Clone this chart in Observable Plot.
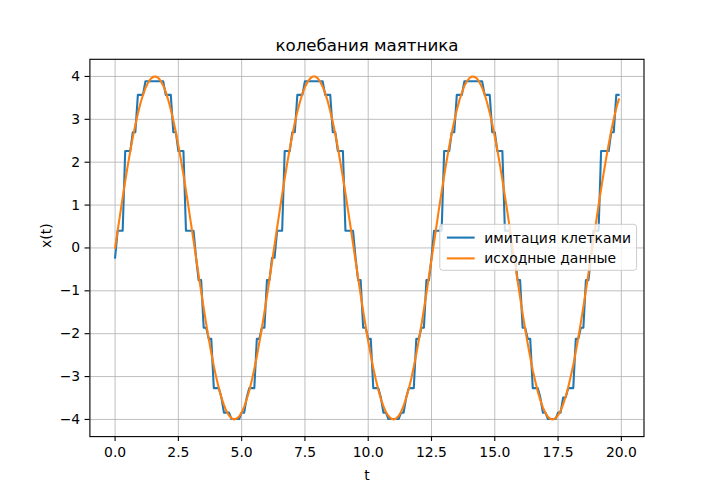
<!DOCTYPE html>
<html><head><meta charset="utf-8">
<script src="https://cdn.jsdelivr.net/npm/d3@7"></script>
<script src="https://cdn.jsdelivr.net/npm/@observablehq/plot@0.6"></script>
<style>html,body{margin:0;padding:0;background:#fff;}#chart{width:715px;height:490px;}</style>
</head><body><div id="chart"></div>
<script>
const titleText = "колебания маятника";
const xLabel = "t";
const yLabel = "x(t)";
const seriesNames = ["имитация клетками", "исходные данные"];
const seriesColors = ["#1f77b4", "#ff7f0e"];
const xTicks = [0, 2.5, 5, 7.5, 10, 12.5, 15, 17.5, 20];
const yTicks = [-4, -3, -2, -1, 0, 1, 2, 3, 4];
const tStep = 0.1;

// "исходные данные": values at t = 0, 0.1, ..., 19.9
const originalValues = [
0.00, 0.40, 0.79, 1.18, 1.56, 1.92, 2.26, 2.58, 2.87, 3.13,
3.37, 3.56, 3.73, 3.85, 3.94, 3.99, 4.00, 3.97, 3.90, 3.79,
3.64, 3.45, 3.23, 2.98, 2.70, 2.39, 2.06, 1.71, 1.34, 0.96,
0.56, 0.17, -0.23, -0.63, -1.02, -1.40, -1.77, -2.12, -2.45, -2.75,
-3.03, -3.27, -3.49, -3.66, -3.81, -3.91, -3.97, -4.00, -3.98, -3.93,
-3.84, -3.70, -3.53, -3.33, -3.09, -2.82, -2.53, -2.20, -1.86, -1.50,
-1.12, -0.73, -0.33,
0.07, 0.47, 0.86, 1.25, 1.62, 1.98, 2.31, 2.63, 2.92, 3.18,
3.40, 3.60, 3.75, 3.87, 3.95, 4.00, 4.00, 3.96, 3.88, 3.76,
3.61, 3.42, 3.19, 2.94, 2.65, 2.34, 2.00, 1.65, 1.28, 0.89,
0.50, 0.10, -0.30, -0.70, -1.09, -1.47, -1.83, -2.18, -2.50, -2.80,
-3.07, -3.31, -3.52, -3.69, -3.83, -3.92, -3.98, -4.00, -3.98, -3.92,
-3.82, -3.68, -3.50, -3.29, -3.05, -2.77, -2.47, -2.15, -1.80, -1.43,
-1.05, -0.66, -0.27,
0.13, 0.53, 0.93, 1.31, 1.68, 2.04, 2.37, 2.68, 2.96, 3.22,
3.44, 3.62, 3.78, 3.89, 3.96, 4.00, 3.99, 3.95, 3.86, 3.74,
3.58, 3.38, 3.15, 2.89, 2.60, 2.29, 1.95, 1.59, 1.21, 0.83,
0.43, 0.03, -0.37, -0.76, -1.15, -1.53, -1.89, -2.23, -2.55, -2.85,
-3.11, -3.35, -3.55, -3.72, -3.85, -3.94, -3.99, -4.00, -3.97, -3.90,
-3.80, -3.65, -3.47, -3.25, -3.00, -2.73, -2.42, -2.09, -1.74, -1.37,
-0.99, -0.60, -0.20,
0.20, 0.60, 0.99, 1.37, 1.74, 2.09, 2.42, 2.73, 3.01, 3.26, 3.47
];

// "имитация клетками": cell levels and how many consecutive samples hold each
const cellLevels = [
-0.23, 0.40, 2.26, 2.70, 3.57, 3.89, 3.57, 2.70, 2.26, 0.40,
-0.23, -0.75, -1.86, -2.12, -3.27, -3.49, -3.84, -3.99, -3.84, -3.49, -3.27, -2.12, -1.86, -0.75, -0.23,
0.40, 2.26, 2.70, 3.57, 3.89, 3.57, 2.70, 2.26, 0.40,
-0.23, -0.75, -1.86, -2.12, -3.27, -3.49, -3.84, -3.99, -3.84, -3.49, -3.27, -2.12, -1.86, -0.75, -0.23,
0.40, 2.26, 2.70, 3.57, 3.89, 3.57, 2.70, 2.26, 0.40,
-0.23, -0.75, -1.86, -2.12, -3.27, -3.49, -3.84, -3.99, -3.84, -3.49, -3.27, -2.12, -1.86, -0.75, -0.23,
0.40, 2.26, 2.70, 3.57
];
const cellCounts = [
1, 3, 3, 2, 3, 8, 3, 2, 3, 4,
1, 2, 2, 2, 3, 1, 3, 4, 2, 1, 3, 2, 2, 2, 2,
3, 3, 2, 3, 8, 3, 2, 3, 4,
1, 2, 2, 2, 3, 1, 2, 5, 2, 1, 3, 2, 2, 2, 1,
4, 3, 2, 3, 8, 3, 2, 3, 3,
2, 2, 2, 2, 3, 1, 2, 4, 2, 2, 3, 2, 2, 2, 1,
3, 4, 2, 2
];

const cellValues = cellLevels.flatMap((v, i) => Array(cellCounts[i]).fill(v));
const tValues = originalValues.map((_, i) => Math.round(i * tStep * 10) / 10);
const cellData = tValues.map((t, i) => ({t, x: cellValues[i]}));
const origData = tValues.map((t, i) => ({t, x: originalValues[i]}));

const FONT = "'DejaVu Sans', sans-serif";
const ML = 89.4, MR = 71.5, MT = 58.8, MB = 53.9, W = 715, H = 490;

const chart = Plot.plot({
  width: W, height: H,
  marginLeft: ML, marginRight: MR, marginTop: MT, marginBottom: MB,
  style: {fontFamily: FONT, fontSize: "13.9px", background: "white", color: "black", overflow: "visible"},
  x: {domain: [-0.995, 20.895], label: null},
  y: {domain: [-4.4, 4.4], label: null},
  marks: [
    Plot.gridX(xTicks, {stroke: "#b0b0b0", strokeOpacity: 1, strokeWidth: 0.8}),
    Plot.gridY(yTicks, {stroke: "#b0b0b0", strokeOpacity: 1, strokeWidth: 0.8}),
    Plot.line(cellData, {x: "t", y: "x", stroke: seriesColors[0], strokeWidth: 2.08}),
    Plot.line(origData, {x: "t", y: "x", stroke: seriesColors[1], strokeWidth: 2.08}),
    Plot.frame({stroke: "black", strokeWidth: 1.11}),
    Plot.axisX(xTicks, {tickFormat: d3.format(".1f"), tickSize: 4.86, tickPadding: 5.8, fontSize: 13.9, strokeWidth: 1.11, label: null}),
    Plot.axisY(yTicks, {tickSize: 4.86, tickPadding: 4.86, fontSize: 13.9, strokeWidth: 1.11, label: null}),
    Plot.text([titleText], {frameAnchor: "top", dy: -8.3, lineAnchor: "bottom", fontSize: 16.67, text: d => d, fill: "black"}),
    Plot.text([xLabel], {frameAnchor: "bottom", dy: 43.5, lineAnchor: "bottom", fontSize: 13.9, text: d => d, fill: "black"}),
    Plot.text([yLabel], {frameAnchor: "left", dx: -39.4, rotate: -90, lineAnchor: "bottom", fontSize: 13.9, text: d => d, fill: "black"})
  ]
});
document.getElementById("chart").appendChild(chart);

// legend (matplotlib-style box)
const svg = d3.select(chart);
const fs = 13.9;
const lg = svg.append("g").attr("font-family", FONT).attr("font-size", fs).attr("text-anchor", "start");
const rect = lg.append("rect");
const rowY = [237.6, 258.4];
const texts = seriesNames.map((name, i) =>
  lg.append("text").attr("y", rowY[i] + 5.0).attr("fill", "black").attr("text-anchor", "start").text(name));
const textW = d3.max(texts, t => t.node().getComputedTextLength());
const right = W - MR - 6.95;
const pad = 5.56, handleLen = 27.8, handlePad = 11.1;
const left = right - (pad + handleLen + handlePad + textW + pad);
rect.attr("x", left).attr("y", 224.3).attr("width", right - left).attr("height", 46)
  .attr("rx", 2.8).attr("fill", "white").attr("fill-opacity", 0.8)
  .attr("stroke", "#cccccc").attr("stroke-width", 1.0);
seriesNames.forEach((name, i) => {
  lg.append("line").attr("x1", left + pad + 1.5).attr("x2", left + pad + handleLen + 1.5)
    .attr("y1", rowY[i]).attr("y2", rowY[i])
    .attr("stroke", seriesColors[i]).attr("stroke-width", 2.08);
  texts[i].attr("x", left + pad + handleLen + handlePad);
  texts[i].raise();
});
</script>
</body></html>
